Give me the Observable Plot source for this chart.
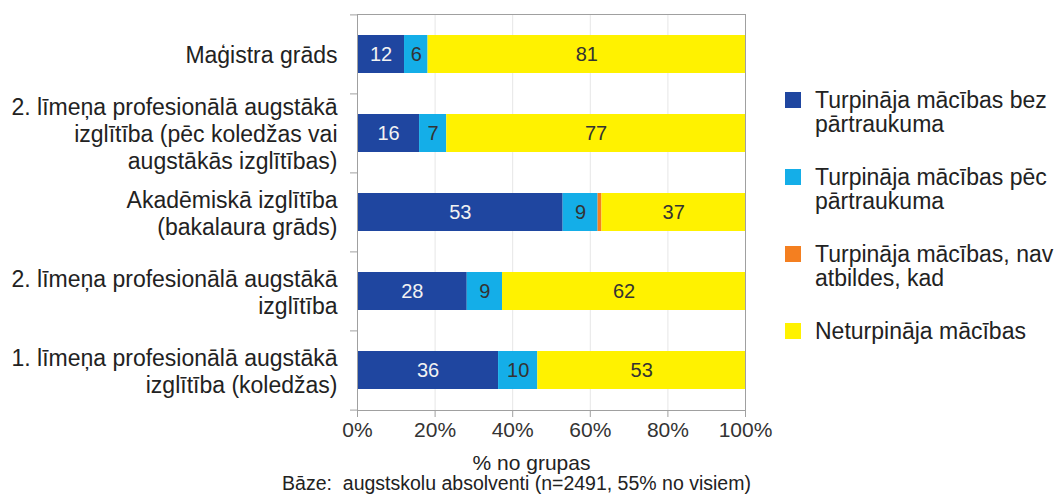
<!DOCTYPE html>
<html><head><meta charset="utf-8">
<script src="https://cdn.jsdelivr.net/npm/d3@7"></script>
<script src="https://cdn.jsdelivr.net/npm/@observablehq/plot@0.6"></script>
<style>
body{margin:0;background:#fff;font-family:"Liberation Sans",Arial,sans-serif;}
#wrap{position:relative;width:1057px;height:495px;overflow:hidden;background:#fff}
#legend{position:absolute;left:785px;top:88px;width:300px;color:#222;font-size:23px;line-height:24px}
.item{display:flex;align-items:flex-start;margin-bottom:29px;white-space:nowrap}
.sw{width:16px;height:16px;margin-top:4px;margin-right:14px;flex:none}
</style></head><body><div id="wrap"></div>
<script>
const categories = ["mag", "prof2b", "akad", "prof2", "prof1"];
const catLabels = [
  "Maģistra grāds",
  "2. līmeņa profesionālā augstākā\nizglītība (pēc koledžas vai\naugstākās izglītības)",
  "Akadēmiskā izglītība\n(bakalaura grāds)",
  "2. līmeņa profesionālā augstākā\nizglītība",
  "1. līmeņa profesionālā augstākā\nizglītība (koledžas)"
];
const series = ["Turpināja mācības bez pārtraukuma", "Turpināja mācības pēc pārtraukuma", "Turpināja mācības, nav atbildes, kad", "Neturpināja mācības"];
const legendLabels = ["Turpināja mācības bez<br>pārtraukuma", "Turpināja mācības pēc<br>pārtraukuma", "Turpināja mācības, nav<br>atbildes, kad", "Neturpināja mācības"];
const colors = ["#1f46a0", "#14aee8", "#f47f20", "#fff200"];
const bezPartraukuma = [12, 16, 53, 28, 36];
const pecPartraukuma = [6, 7, 9, 9, 10];
const navAtbildes = [0, 0, 1, 0, 0];
const neturpinaja = [81, 77, 37, 62, 53];
const xTicks = [0, 0.2, 0.4, 0.6, 0.8, 1];
const xLabel = "% no grupas";
const caption = "Bāze:  augstskolu absolventi (n=2491, 55% no visiem)";

const seriesValues = [bezPartraukuma, pecPartraukuma, navAtbildes, neturpinaja];
const data = [];
categories.forEach((c, i) => series.forEach((s, j) => data.push({cat: c, series: s, value: seriesValues[j][i]})));

const W = 1057, H = 495, mt = 14, mb = 85, ml = 357, mr = 312;
const step = (H - mt - mb) / categories.length;
const font = "'Liberation Sans', Arial, sans-serif";
const stackOpts = {x: "value", y: "cat", z: "series", order: series, offset: "normalize"};

const chart = Plot.plot({
  width: W, height: H, marginTop: mt, marginBottom: mb, marginLeft: ml, marginRight: mr,
  style: {fontFamily: font, background: "#fff", color: "#222"},
  x: {domain: [0, 1]},
  y: {domain: categories, paddingInner: 0.52, paddingOuter: 0.26},
  color: {domain: series, range: colors},
  marks: [
    Plot.gridX(xTicks.slice(1, -1), {stroke: "#e6e6e6", strokeOpacity: 1}),
    Plot.barX(data, Plot.stackX({...stackOpts, fill: "series"})),
    Plot.text(data, Plot.stackX({...stackOpts, text: d => (d.value >= 2 && d.series === series[0]) ? String(d.value) : null, fill: "#f2f2f2", fontSize: 20})),
    Plot.text(data, Plot.stackX({...stackOpts, text: d => (d.value >= 2 && d.series !== series[0]) ? String(d.value) : null, fill: "#333", fontSize: 20})),
    Plot.frame({stroke: "#a0a0a0"}),
    Plot.axisX({ticks: xTicks, tickFormat: d => Math.round(d * 100) + "%", tickSize: 7, tickPadding: 5, fontSize: 21, label: null, stroke: "#a0a0a0", fill: "#333"}),
    Plot.axisY({tickSize: 0, tickPadding: 20, fontSize: 23, label: null, lineHeight: 1.17, fill: "#222", tickFormat: d => catLabels[categories.indexOf(d)]}),
    Plot.axisY({tickSize: 7, fill: "none", stroke: "#a0a0a0", label: null, dy: -step / 2}),
    Plot.axisY([categories[categories.length - 1]], {tickSize: 7, fill: "none", stroke: "#a0a0a0", label: null, dy: step / 2}),
    Plot.text([xLabel], {text: d => d, frameAnchor: "bottom", dy: 59, dx: -20, fontSize: 21, fill: "#222"}),
    Plot.text([caption], {text: d => d, frameAnchor: "bottom", dy: 79, dx: -35, fontSize: 19.5, fill: "#222"})
  ]
});

const wrap = document.getElementById("wrap");
wrap.appendChild(chart);
const legend = document.createElement("div");
legend.id = "legend";
legend.innerHTML = series.map((s, i) => `<div class="item"><div class="sw" style="background:${colors[i]}"></div><div>${legendLabels[i]}</div></div>`).join("");
wrap.appendChild(legend);
</script>
</body></html>
